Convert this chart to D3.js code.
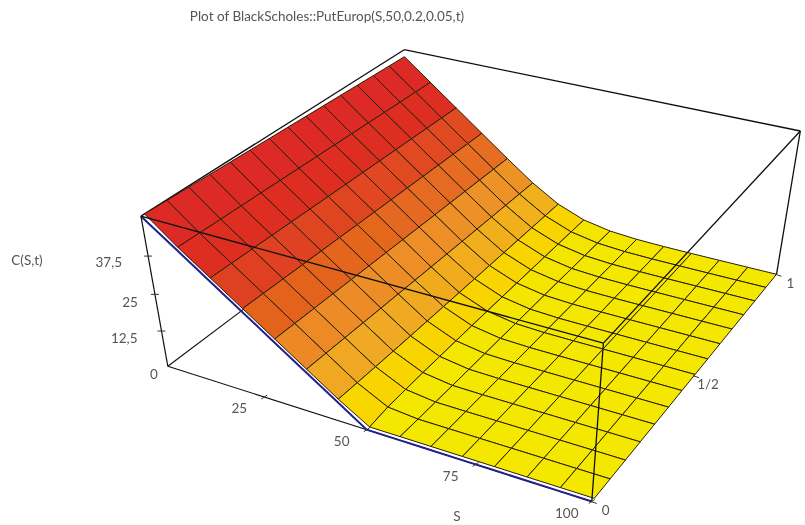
<!DOCTYPE html>
<html><head><meta charset="utf-8">
<script src="https://cdn.jsdelivr.net/npm/d3@7/dist/d3.min.js"></script>
<style>html,body{margin:0;background:#fff}svg{display:block}text{font-family:Lato,"Open Sans",sans-serif;fill:#555}</style>
</head><body><svg id="c" width="805" height="525"></svg>
<script>
// ---- data ----
const title = "Plot of BlackScholes::PutEurop(S,50,0.2,0.05,t)";
const sValues = [0,7.14,14.29,21.43,28.57,35.71,42.86,50,57.14,64.29,71.43,78.57,85.71,92.86,100];
const tValues = [0,0.0714,0.1429,0.2143,0.2857,0.3571,0.4286,0.5,0.5714,0.6429,0.7143,0.7857,0.8571,0.9286,1];
const row00 = [50.00,42.86,35.71,28.57,21.43,14.29,7.14,0.00,0,0,0,0,0,0,0];
const row01 = [49.82,42.68,35.54,28.39,21.25,14.11,6.97,0.98,0,0,0,0,0,0,0];
const row02 = [49.64,42.50,35.36,28.22,21.07,13.93,6.82,1.33,0.05,0,0,0,0,0,0];
const row03 = [49.47,42.32,35.18,28.04,20.90,13.75,6.72,1.58,0.13,0,0,0,0,0,0];
const row04 = [49.29,42.15,35.01,27.86,20.72,13.58,6.65,1.78,0.22,0.01,0,0,0,0,0];
const row05 = [49.12,41.97,34.83,27.69,20.54,13.41,6.60,1.95,0.31,0.03,0,0,0,0,0];
const row06 = [48.94,41.80,34.65,27.51,20.37,13.24,6.57,2.09,0.40,0.05,0,0,0,0,0];
const row07 = [48.77,41.62,34.48,27.34,20.19,13.08,6.54,2.21,0.49,0.08,0.01,0,0,0,0];
const row08 = [48.59,41.45,34.31,27.16,20.02,12.93,6.52,2.32,0.58,0.11,0.02,0,0,0,0];
const row09 = [48.42,41.28,34.13,26.99,19.85,12.78,6.50,2.42,0.66,0.14,0.02,0,0,0,0];
const row10 = [48.25,41.10,33.96,26.82,19.68,12.64,6.48,2.50,0.74,0.17,0.03,0.01,0,0,0];
const row11 = [48.07,40.93,33.79,26.65,19.51,12.50,6.47,2.58,0.81,0.21,0.05,0.01,0,0,0];
const row12 = [47.90,40.76,33.62,26.47,19.34,12.37,6.45,2.66,0.88,0.24,0.06,0.01,0,0,0];
const row13 = [47.73,40.59,33.45,26.30,19.17,12.25,6.44,2.73,0.95,0.28,0.07,0.02,0,0,0];
const row14 = [47.56,40.42,33.28,26.13,19.00,12.13,6.43,2.79,1.01,0.32,0.09,0.02,0.01,0,0];
const surfaceRows = [row00,row01,row02,row03,row04,row05,row06,row07,row08,row09,row10,row11,row12,row13,row14];
const sTicks = [25,50,75,100], sTickLabels = ["25","50","75","100"];
const tTicks = [0,0.5,1], tTickLabels = ["0","1/2","1"];
const vTicks = [0,12.5,25,37.5], vTickLabels = ["0","12,5","25","37,5"];

// ---- scales: data -> unit cube ----
const sx = d3.scaleLinear().domain([0,100]).range([0,1]);
const sy = d3.scaleLinear().domain([0,1]).range([0,1]);
const sz = d3.scaleLinear().domain([0,50]).range([0,1]);

// ---- camera: fitted to where the box corners fall on screen ----
const camera = [
 [0,0,0,168,367],[1,0,0,591,501],[1,1,0,777,274],
 [0,0,1,141,215],[1,0,1,604,344],[0,1,1,404,50],[1,1,1,800,131]];
function fitCamera(pts){
  const A=[],b=[],k=800;
  pts.forEach(([X,Y,Z,u0,v0])=>{const u=u0/k,v=v0/k;
    A.push([X,Y,Z,1,0,0,0,0,-u*X,-u*Y,-u*Z]);b.push(u);
    A.push([0,0,0,0,X,Y,Z,1,-v*X,-v*Y,-v*Z]);b.push(v);});
  const n=11,M=d3.range(n).map(i=>d3.range(n+1).map(j=>{
    let s=0;A.forEach((r,q)=>{s+=r[i]*(j<n?r[j]:b[q]);});return s+(i===j?1e-9:0);}));
  for(let i=0;i<n;i++){let p=i;for(let r=i+1;r<n;r++)if(Math.abs(M[r][i])>Math.abs(M[p][i]))p=r;
    [M[i],M[p]]=[M[p],M[i]];
    for(let r=0;r<n;r++)if(r!==i){const f=M[r][i]/M[i][i];for(let c=i;c<=n;c++)M[r][c]-=f*M[i][c];}}
  const h=d3.range(n).map(i=>M[i][n]/M[i][i]);
  return (X,Y,Z)=>{const w=h[8]*X+h[9]*Y+h[10]*Z+1;
    return [k*(h[0]*X+h[1]*Y+h[2]*Z+h[3])/w,k*(h[4]*X+h[5]*Y+h[6]*Z+h[7])/w];};
}
const cam = fitCamera(camera);
const project = (S,t,V)=>cam(sx(S),sy(t),sz(V));

const color = d3.scaleLinear()
  .domain([0.5,2.2,3,6,10,14,19,24,30,36,50])
  .range(["#f4e800","#f4e400","#f8d800","#f8d000","#f0aa20","#ee9a28","#ec8428","#e4661f","#e04a20","#de2e24","#de2a26"])
  .clamp(true);

const svg = d3.select("#c");
const defs = svg.append("defs");
defs.append("filter").attr("id","soft").attr("x","-2%").attr("y","-2%").attr("width","104%").attr("height","104%")
  .append("feGaussianBlur").attr("stdDeviation",0.5);
const g = svg.append("g").attr("filter","url(#soft)");
const line = d3.line();
const boxLine = (a,b,w)=>g.append("path").attr("d",line([project(...a),project(...b)]))
  .attr("fill","none").attr("stroke","#111").attr("stroke-width",w||1.3);

// back edges of the box
boxLine([0,1,50],[100,1,50]);
boxLine([0,0,50],[0,1,50]);
boxLine([100,1,0],[100,1,50]);
boxLine([0,0,0],[0,1,0],1.1);
boxLine([0,0,0],[100,0,0],1.1);

// navy edge of the surface along t = 0
g.append("path").attr("d",line(sValues.map((s,i)=>project(s,0,row00[i]))))
  .attr("fill","none").attr("stroke","#20208a").attr("stroke-width",2);

// surface cells, far to near; the mesh sits slightly inside the box at the front
const tInset = 0.011, vInset = 0.7;
const pt = (i,j)=>{const s=sValues[i],t=tValues[j];
  return project(s,t+tInset*(1-t),surfaceRows[j][i]-(s>0&&s<50?vInset*(1-t):0));};
const cells=[];
d3.range(tValues.length-2,-1,-1).forEach(j=>d3.range(sValues.length-1).forEach(i=>cells.push([i,j])));
g.append("g").selectAll("path").data(cells).join("path")
  .attr("d",([i,j])=>line([pt(i,j),pt(i+1,j),pt(i+1,j+1),pt(i,j+1)])+"Z")
  .attr("fill",([i,j])=>color(d3.mean([surfaceRows[j][i],surfaceRows[j][i+1],surfaceRows[j+1][i],surfaceRows[j+1][i+1]])))
  .attr("stroke","#2a1e06").attr("stroke-width",1).attr("stroke-linejoin","round");

// front edges over the surface
boxLine([0,0,50],[100,0,50]);
boxLine([100,0,50],[100,1,50]);
boxLine([100,0,50],[100,0,0]);
boxLine([0,0,0],[0,0,50],1.2);

// ticks
const tick=(p,dx,dy,dx2,dy2)=>g.append("path").attr("d",line([[p[0]+dx,p[1]+dy],[p[0]+dx2,p[1]+dy2]]))
  .attr("fill","none").attr("stroke","#333").attr("stroke-width",1);
const label=(txt,x,y,anchor)=>g.append("text").attr("x",x).attr("y",y).attr("text-anchor",anchor||"middle")
  .attr("dominant-baseline","middle").attr("font-size",13.5).text(txt);
sTicks.forEach((s,i)=>{const p=project(s,0,0);tick(p,-3,2,3,-2);label(sTickLabels[i],p[0]-25,p[1]+13);});
tTicks.forEach((t,i)=>{const p=project(100,t,0);tick(p,-1,0,5,2);label(tTickLabels[i],p[0]+14,p[1]+10);});
const vEnd=[-10,-24,-17,-26], vDy=[9,9,9,7];
vTicks.forEach((v,i)=>{const p=project(0,0,v);if(v>0)tick(p,-4,0,4,0);label(vTickLabels[i],p[0]+vEnd[i],p[1]+vDy[i],"end");});

label("S",457,518);
label("C(S,t)",27,262);
g.append("text").attr("x",327).attr("y",18).attr("text-anchor","middle").attr("dominant-baseline","middle")
  .attr("font-size",13.5).text(title);
</script></body></html>
